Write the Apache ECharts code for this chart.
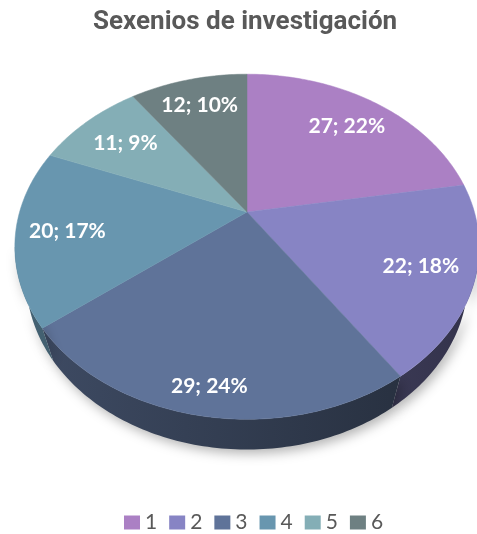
<!DOCTYPE html>
<html lang="es">
<head>
    <meta charset="UTF-8">
    <title>Sexenios de investigación</title>
    <script src="https://cdn.jsdelivr.net/npm/echarts@6/dist/echarts.min.js"></script>
    <style>
        html, body { margin: 0; padding: 0; background: #fff; }
    </style>
</head>
<body>
<div id="main" style="width:477px;height:534px;"></div>
<script>
    // datos
    var categories = ['1', '2', '3', '4', '5', '6'];
    var values = [27, 22, 29, 20, 11, 12];
    var colors = ['#ab80c4', '#8784c4', '#5f7399', '#6896af', '#84aeb6', '#6e8082'];

    var total = values.reduce(function (a, b) { return a + b; }, 0);

    // "3D" tilted pie: perspective projection of a flat disc
    var cx = 247, cy = 212;
    var sinE = 0.728, cosE = 0.686;
    var L = 3.408, K = 775, H = 0.23;
    var labelR = [0.76, 0.78, 0.88, 0.78, 0.74, 0.78];

    function proj(theta, r, z) {
        var X = r * Math.sin(theta), Y = r * Math.cos(theta);
        var depth = L + Y * cosE - z * sinE;
        var up = Y * sinE + z * cosE;
        return [cx + K * X / depth, cy - K * up / depth];
    }

    function arc(a0, a1, z) {
        var pts = [];
        var n = Math.max(2, Math.ceil((a1 - a0) / (Math.PI / 180)));
        for (var j = 0; j <= n; j++) {
            pts.push(proj(a0 + (a1 - a0) * j / n, 1, z));
        }
        return pts;
    }

    function shade(hex, f) {
        var r = parseInt(hex.substr(1, 2), 16), g = parseInt(hex.substr(3, 2), 16), b = parseInt(hex.substr(5, 2), 16);
        return 'rgb(' + Math.round(r * f) + ',' + Math.round(g * f) + ',' + Math.round(b * f) + ')';
    }

    var visA = Math.acos(-cosE / L), visB = 2 * Math.PI - visA;

    function makeRender(i) {
        return function (params, api) {
            var v = api.value(0);
            var before = 0;
            for (var j = 0; j < i; j++) before += values[j];
            var a0 = before / total * 2 * Math.PI;
            var a1 = a0 + v / total * 2 * Math.PI;
            var children = [];

            // pared lateral (solo la parte visible)
            var lo = Math.max(a0, visA), hi = Math.min(a1, visB);
            if (hi > lo) {
                var top = arc(lo, hi, 0);
                var bot = arc(lo, hi, -H).reverse();
                children.push({
                    type: 'polygon',
                    shape: { points: top.concat(bot) },
                    style: {
                        fill: new echarts.graphic.LinearGradient(13, 0, 476, 0, [
                            { offset: 0, color: shade(colors[i], 0.66) },
                            { offset: 1, color: shade(colors[i], 0.38) }
                        ], true),
                        shadowBlur: 12,
                        shadowOffsetY: 4,
                        shadowOffsetX: 3,
                        shadowColor: 'rgba(0,0,0,0.3)'
                    }
                });
            }

            // cara superior
            var face = [proj(0, 0, 0)].concat(arc(a0, a1, 0));
            children.push({
                type: 'polygon',
                shape: { points: face },
                style: { fill: colors[i], stroke: colors[i], lineWidth: 0.5 }
            });

            // etiqueta
            var mid = (a0 + a1) / 2;
            var lp = proj(mid, labelR[i], 0);
            children.push({
                type: 'text',
                x: lp[0],
                y: lp[1],
                style: {
                    text: v + '; ' + Math.round(v / total * 100) + '%',
                    fill: '#ffffff',
                    font: 'bold 21px Lato, "Open Sans", sans-serif',
                    align: 'center',
                    verticalAlign: 'middle'
                }
            });
            return { type: 'group', children: children };
        };
    }

    var series = categories.map(function (name, i) {
        return {
            name: name,
            type: 'custom',
            coordinateSystem: 'none',
            itemStyle: { color: colors[i] },
            renderItem: makeRender(i),
            data: [[values[i]]],
            silent: true
        };
    });

    var myChart = echarts.init(document.getElementById('main'));
    var option = {
        backgroundColor: '#ffffff',
        animation: false,
        title: {
            text: 'Sexenios de investigación',
            left: 88,
            top: 4,
            textStyle: {
                fontFamily: 'Roboto',
                fontWeight: 'bold',
                fontSize: 26,
                color: '#595959'
            }
        },
        legend: {
            data: categories,
            left: 119,
            top: 507,
            icon: 'rect',
            itemWidth: 16,
            itemHeight: 14,
            itemGap: 12,
            textStyle: { fontFamily: 'Lato', fontSize: 21, color: '#595959' }
        },
        series: series
    };
    myChart.setOption(option);
</script>
</body>
</html>
